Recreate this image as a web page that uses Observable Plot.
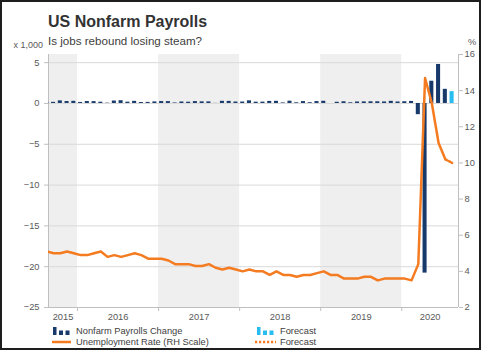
<!DOCTYPE html>
<html><head><meta charset="utf-8">
<script src="https://cdn.jsdelivr.net/npm/d3@7"></script>
<script src="https://cdn.jsdelivr.net/npm/@observablehq/plot@0.6"></script>
<style>
html,body{margin:0;padding:0;background:#fff;}
#wrap{position:relative;width:481px;height:350px;overflow:hidden;font-family:"Liberation Sans",Arial,sans-serif;background:#fff;}
#frame{position:absolute;left:0;top:0;width:481px;height:350px;box-sizing:border-box;border:2px solid #1e1e1e;pointer-events:none;}
.t{position:absolute;white-space:nowrap;}
#title{left:48px;top:14px;font-size:16px;line-height:16px;font-weight:bold;color:#333;}
#sub{left:48px;top:34.5px;font-size:11.6px;line-height:11.6px;color:#404040;}
#ul{right:438px;top:41.4px;font-size:9px;line-height:9px;color:#595959;}
#ur{left:468px;top:38px;font-size:9.3px;line-height:9.3px;color:#595959;}
#chart{position:absolute;left:0;top:30px;}
.lg{position:absolute;font-size:9.3px;line-height:11px;color:#404040;white-space:nowrap;}
.ic{position:absolute;}
</style></head>
<body>
<div id="wrap">
  <div class="t" id="title">US Nonfarm Payrolls</div>
  <div class="t" id="sub">Is jobs rebound losing steam?</div>
  <div class="t" id="ul">x 1,000</div>
  <div class="t" id="ur">%</div>
  <div id="chart"></div>
  <svg class="ic" style="left:53px;top:326px" width="18" height="10"><rect x="0" y="1" width="3.5" height="8" fill="#173a6b"/><rect x="6" y="4.5" width="4" height="4.5" fill="#173a6b"/><rect x="12.5" y="4.5" width="4" height="4.5" fill="#173a6b"/></svg>
  <div class="lg" style="left:76px;top:326px">Nonfarm Payrolls Change</div>
  <svg class="ic" style="left:257px;top:326px" width="18" height="10"><rect x="0" y="1" width="3.5" height="8" fill="#27bdf0"/><rect x="6" y="4.5" width="4" height="4.5" fill="#27bdf0"/><rect x="12.5" y="4.5" width="4" height="4.5" fill="#27bdf0"/></svg>
  <div class="lg" style="left:280px;top:326px">Forecast</div>
  <svg class="ic" style="left:52px;top:337px" width="19" height="10"><line x1="0" y1="5" x2="19" y2="5" stroke="#f47b20" stroke-width="2.5"/></svg>
  <div class="lg" style="left:76px;top:336.5px">Unemployment Rate (RH Scale)</div>
  <svg class="ic" style="left:255px;top:337px" width="21" height="10"><line x1="0" y1="5" x2="21" y2="5" stroke="#f47b20" stroke-width="2.5" stroke-dasharray="2.2,1.8"/></svg>
  <div class="lg" style="left:280px;top:336.5px">Forecast</div>
  <div id="frame"></div>
</div>
<script>
// ---- data ----
const months = [
  "2015-08","2015-09","2015-10","2015-11","2015-12",
  "2016-01","2016-02","2016-03","2016-04","2016-05","2016-06","2016-07","2016-08","2016-09","2016-10","2016-11","2016-12",
  "2017-01","2017-02","2017-03","2017-04","2017-05","2017-06","2017-07","2017-08","2017-09","2017-10","2017-11","2017-12",
  "2018-01","2018-02","2018-03","2018-04","2018-05","2018-06","2018-07","2018-08","2018-09","2018-10","2018-11","2018-12",
  "2019-01","2019-02","2019-03","2019-04","2019-05","2019-06","2019-07","2019-08","2019-09","2019-10","2019-11","2019-12",
  "2020-01","2020-02","2020-03","2020-04","2020-05","2020-06","2020-07"
];
// nonfarm payrolls change, thousands x 1,000
const payrolls = [
  0.153, 0.138, 0.319, 0.236, 0.265,
  0.126, 0.236, 0.225, 0.153, 0.040, 0.297, 0.338, 0.158, 0.258, 0.119, 0.131, 0.191,
  0.236, 0.228, 0.063, 0.181, 0.154, 0.228, 0.200, 0.196, 0.014, 0.263, 0.254, 0.175,
  0.176, 0.324, 0.157, 0.163, 0.253, 0.263, 0.069, 0.278, 0.085, 0.231, 0.096, 0.231,
  0.269, 0.001, 0.147, 0.210, 0.085, 0.182, 0.194, 0.207, 0.208, 0.185, 0.261, 0.184,
  0.214, 0.251, -1.373, -20.787, 2.725, 4.781, 1.734
];
// unemployment rate, %
const unemployment = [
  5.1, 5.0, 5.0, 5.1, 5.0,
  4.9, 4.9, 5.0, 5.1, 4.8, 4.9, 4.8, 4.9, 5.0, 4.9, 4.7, 4.7,
  4.7, 4.6, 4.4, 4.4, 4.4, 4.3, 4.3, 4.4, 4.2, 4.1, 4.2, 4.1,
  4.0, 4.1, 4.0, 4.0, 3.8, 4.0, 3.8, 3.8, 3.7, 3.8, 3.8, 3.9,
  4.0, 3.8, 3.8, 3.6, 3.6, 3.6, 3.7, 3.7, 3.5, 3.6, 3.6, 3.6,
  3.6, 3.5, 4.4, 14.7, 13.3, 11.1, 10.2
];
const forecastMonth = "2020-08";
const payrollsForecast = 1.45;
const unemploymentForecast = 10.0;

const years = [2015, 2016, 2017, 2018, 2019, 2020];
const shadedYears = [2015, 2017, 2019];
const leftTicks = [-25, -20, -15, -10, -5, 0, 5];
const rightTicks = [2, 4, 6, 8, 10, 12, 14, 16];

// ---- scales helpers ----
const X0 = 7.7, X1 = 68.4;          // month index domain (Jan 2015 = 0)
const Y0 = -25, Y1 = 6;              // left axis domain
const U0 = 2, U1 = 16;               // right axis domain
const toL = u => Y0 + (u - U0) * (Y1 - Y0) / (U1 - U0);
const fromL = v => U0 + (v - Y0) * (U1 - U0) / (Y1 - Y0);
const monthPos = m => { const [y, mo] = m.split("-").map(Number); return (y - 2015) * 12 + (mo - 1) + 0.45; };
const yearStart = y => (y - 2015) * 12;

const pay = months.map((m, i) => ({m, v: payrolls[i]}));
const unemp = months.map((m, i) => ({m, u: unemployment[i]}));
const payF = [{m: forecastMonth, v: payrollsForecast}];
const unempF = [{m: months[months.length - 1], u: unemployment[unemployment.length - 1]}, {m: forecastMonth, u: unemploymentForecast}];

const navy = "#173a6b", sky = "#27bdf0", orange = "#f47b20";

const chart = Plot.plot({
  width: 481,
  height: 296,
  marginLeft: 48,
  marginRight: 23,
  marginTop: 24,
  marginBottom: 19,
  x: {type: "linear", domain: [X0, X1], axis: null},
  y: {type: "linear", domain: [Y0, Y1], axis: null},
  style: {fontFamily: "'Liberation Sans', Arial, sans-serif", fontSize: "9.3px", color: "#595959", background: "transparent", overflow: "visible"},
  marks: [
    Plot.rect(shadedYears, {x1: y => Math.max(X0, yearStart(y)), x2: y => Math.min(X1, yearStart(y) + 12), y1: Y0, y2: Y1, fill: "#efefef"}),
    Plot.ruleY(leftTicks.filter(v => v > Y0), {stroke: "#d9d9d9", strokeWidth: 1}),
    Plot.ruleY([Y0], {stroke: "#bfbfbf"}),
    Plot.ruleX([X0, X1], {stroke: "#bfbfbf"}),
    Plot.rect(pay, {x1: d => monthPos(d.m) - 0.3, x2: d => monthPos(d.m) + 0.3, y1: 0, y2: d => d.v, fill: navy, clip: true}),
    Plot.rect(payF, {x1: d => monthPos(d.m) - 0.3, x2: d => monthPos(d.m) + 0.3, y1: 0, y2: d => d.v, fill: sky, clip: true}),
    Plot.line(unemp, {x: d => monthPos(d.m), y: d => toL(d.u), stroke: orange, strokeWidth: 2.5, strokeLinejoin: "round", clip: true}),
    Plot.line(unempF, {x: d => monthPos(d.m), y: d => toL(d.u), stroke: orange, strokeWidth: 2.5, strokeDasharray: "2,1.6", clip: true}),
    Plot.axisY({anchor: "left", ticks: leftTicks, tickSize: 4, tickPadding: 5, stroke: "#bfbfbf", fill: "#595959", label: null}),
    Plot.axisY({anchor: "right", ticks: rightTicks.map(toL), tickFormat: v => String(Math.round(fromL(v))), tickSize: 4, tickPadding: 2, stroke: "#bfbfbf", fill: "#595959", label: null}),
    Plot.axisX({ticks: years.slice(1).map(yearStart), tickSize: 4, tickFormat: () => "", stroke: "#bfbfbf", label: null}),
    Plot.text(years, {x: y => (Math.max(X0, yearStart(y)) + Math.min(X1, yearStart(y) + 12)) / 2, y: Y0, dy: 10, text: y => String(y), fill: "#595959"})
  ]
});
document.getElementById("chart").appendChild(chart);
</script>
</body></html>
